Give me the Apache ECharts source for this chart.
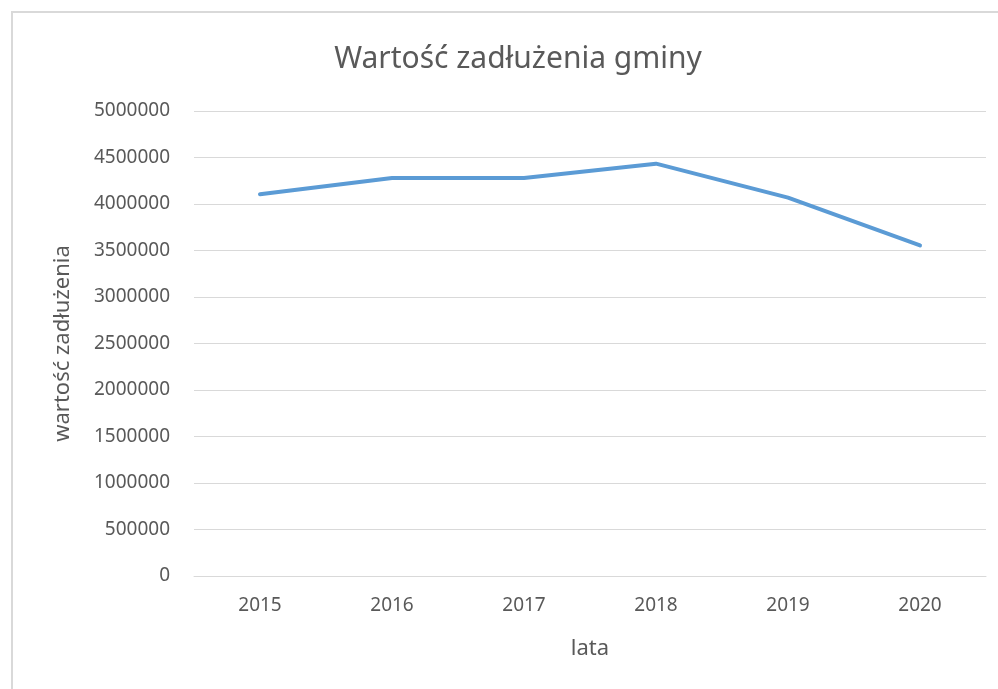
<!DOCTYPE html>
<html>
<head>
<meta charset="utf-8">
<script src="https://cdn.jsdelivr.net/npm/echarts@6/dist/echarts.min.js"></script>
<style>html,body{margin:0;padding:0;background:#fff}#c{width:998px;height:689px}</style>
</head>
<body>
<div id="c"></div>
<script>
const categories = ['2015', '2016', '2017', '2018', '2019', '2020'];
const values = [4104000, 4280000, 4280000, 4434000, 4069000, 3554000];
const chartTitle = 'Wartość zadłużenia gminy';
const xName = 'lata';
const yName = 'wartość zadłużenia';

const font = 'Noto Sans';
const chart = echarts.init(document.getElementById('c'));
chart.setOption({
  animation: false,
  backgroundColor: '#fff',
  graphic: [{
    type: 'rect', shape: {x: 12, y: 12, width: 1100, height: 800},
    style: {fill: 'none', stroke: '#d9d9d9', lineWidth: 2}, silent: true, z: -1
  }],
  title: {
    text: chartTitle, left: 513, textAlign: 'center', top: 39,
    textStyle: {fontFamily: font, fontSize: 30, fontWeight: 'normal', color: '#595959'}
  },
  grid: {left: 194, right: 12, top: 111, bottom: 113},
  xAxis: {
    type: 'category', data: categories, boundaryGap: true,
    name: xName, nameLocation: 'middle', nameGap: 62,
    nameTextStyle: {fontFamily: font, fontSize: 22, color: '#595959'},
    axisLine: {lineStyle: {color: '#d9d9d9', width: 1}},
    axisTick: {show: false},
    axisLabel: {fontFamily: font, fontSize: 19, color: '#595959', margin: 20}
  },
  yAxis: {
    type: 'value', min: 0, max: 5000000, interval: 500000,
    name: yName, nameLocation: 'middle', nameGap: 120, nameRotate: 90,
    nameTextStyle: {fontFamily: font, fontSize: 22, color: '#595959'},
    axisLine: {show: false}, axisTick: {show: false},
    splitLine: {lineStyle: {color: '#d9d9d9', width: 1}},
    axisLabel: {fontFamily: font, fontSize: 19, color: '#595959', margin: 24,
      formatter: v => String(v)}
  },
  series: [{
    type: 'line', data: values, showSymbol: false, symbol: 'none',
    lineStyle: {color: '#5B9BD5', width: 4, cap: 'round', join: 'round'}
  }]
});
</script>
</body>
</html>
